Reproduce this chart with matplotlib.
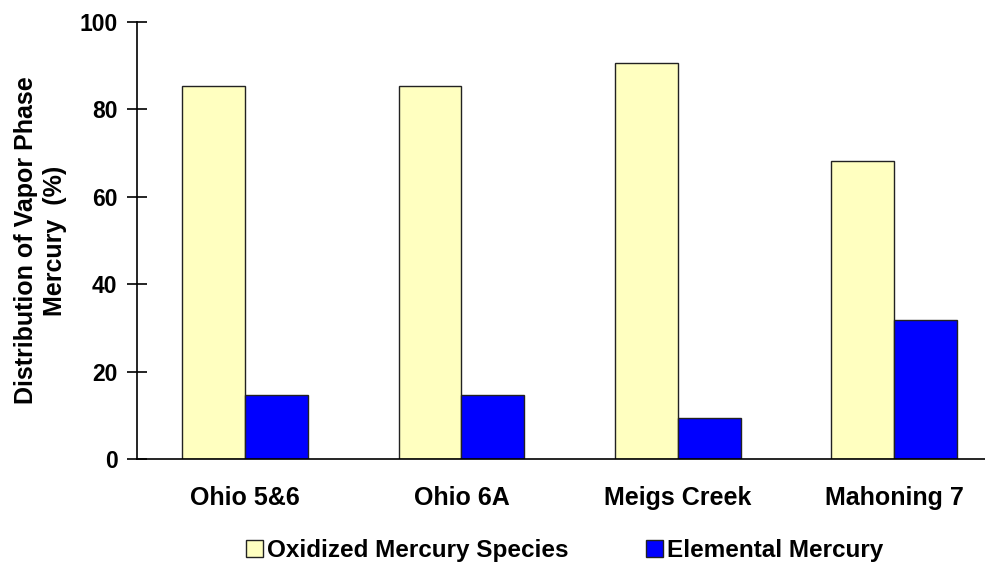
import numpy as np
import matplotlib
matplotlib.use('Agg')
import matplotlib.pyplot as plt

plt.rcParams['font.family'] = ['Liberation Sans', 'DejaVu Sans']
plt.rcParams['font.weight'] = 'bold'

categories = ['Ohio 5&6', 'Ohio 6A', 'Meigs Creek', 'Mahoning 7']
oxidized = [85.3, 85.3, 90.7, 68.1]
elemental = [14.7, 14.7, 9.3, 31.9]

fig = plt.figure(figsize=(9.85, 5.62), dpi=100)
ax = fig.add_axes([0.139, 0.183, 0.861, 0.778])

x = np.arange(len(categories))
w = 0.29
ax.bar(x - w / 2, oxidized, w, color='#ffffc0', edgecolor='#222222', linewidth=1.0,
       label='Oxidized Mercury Species')
ax.bar(x + w / 2, elemental, w, color='#0000ff', edgecolor='#222222', linewidth=1.0,
       label='Elemental Mercury')

ax.set_xlim(-0.5, 3.42)
ax.set_ylim(0, 100)
ax.set_yticks([0, 20, 40, 60, 80, 100])
ax.set_xticks(x)
ax.set_xticklabels(categories, fontsize=18, fontweight='bold')
ax.tick_params(axis='y', direction='inout', length=14, width=1.2, labelsize=16.5, pad=7)
ax.tick_params(axis='x', length=0, pad=19)
for lab in ax.get_yticklabels():
    lab.set_fontweight('bold')
ax.spines['top'].set_visible(False)
ax.spines['right'].set_visible(False)
ax.spines['left'].set_linewidth(1.2)
ax.spines['bottom'].set_linewidth(1.2)

ax.set_ylabel('Distribution of Vapor Phase\nMercury  (%)', fontsize=18, fontweight='bold',
              linespacing=1.3)
ax.yaxis.set_label_coords(-0.082, 0.5)

leg = fig.legend(loc='center', bbox_to_anchor=(0.573, 0.02), ncol=2, frameon=False,
                 prop={'size': 17.5, 'weight': 'bold'}, handlelength=0.7, handleheight=0.7,
                 handletextpad=0.15, columnspacing=3.2)

fig.savefig('out.png', dpi=100)
